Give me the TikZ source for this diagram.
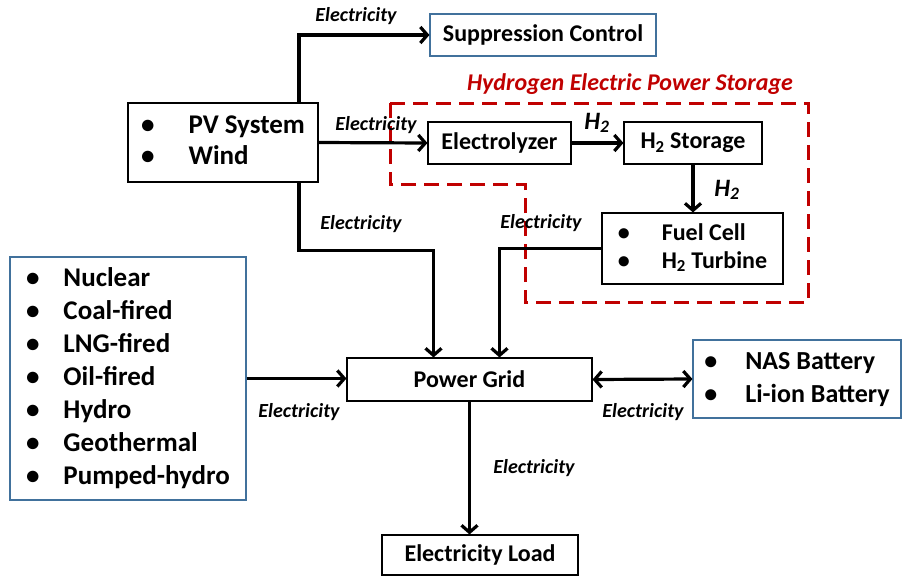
\documentclass[tikz,border=0pt]{standalone}
\usepackage{fontspec}
\setmainfont{Carlito}
\usetikzlibrary{arrows.meta}
\definecolor{boxblue}{HTML}{41719C}
\definecolor{storred}{HTML}{C00000}
\tikzset{
    unit/.style={draw=black, line width=1.1pt, fill=white, inner sep=0pt,
        font=\fontsize{24}{28}\selectfont\bfseries},
    bluebox/.style={unit, draw=boxblue},
    flow/.style={line width=3.2pt, -{Straight Barb[length=7pt,width=16pt]}},
    flowlabel/.style={font=\fontsize{20}{24}\selectfont\bfseries\itshape}
}

\begin{document}
\begin{tikzpicture}[x=1pt, y=-1pt]
    \useasboundingbox (0,0) rectangle (902,576);

    % ---------------- hydrogen storage area ----------------
    \draw[storred, line width=3pt, dash pattern=on 15pt off 8pt]
        (390,103) -- (808,103) -- (808,302) -- (525,302)
        -- (525,184) -- (390,184) -- cycle;
    \node[font=\fontsize{24}{28}\selectfont\bfseries\itshape, text=storred]
        (storlabel) at (630,84) {Hydrogen Electric Power Storage};

    % ---------------- units ----------------
    \node[bluebox, minimum width=226, minimum height=42] (supp) at (543,35) {Suppression Control};
    \node[unit, minimum width=190, minimum height=79,
          font=\fontsize{27}{31}\selectfont\bfseries] (pv) at (223,142.5)
        {\begin{tabular}{@{}l@{\hspace{34pt}}l@{}}\textbullet & PV System\\ \textbullet & Wind\end{tabular}};
    \node[unit, minimum width=143, minimum height=42] (elec) at (499.5,143) {Electrolyzer};
    \node[unit, minimum width=138, minimum height=42] (h2s) at (693,143) {H\textsubscript{2} Storage};
    \node[unit, minimum width=181, minimum height=71,
          font=\fontsize{24}{28}\selectfont\bfseries] (fc) at (692.5,248.5)
        {\begin{tabular}{@{}l@{\hspace{32pt}}l@{}}\textbullet & Fuel Cell\\ \textbullet & H\textsubscript{2} Turbine\end{tabular}};
    \node[unit, minimum width=245, minimum height=43] (grid) at (469.5,379.5) {Power Grid};
    \node[bluebox, minimum width=236, minimum height=243,
          font=\fontsize{27}{33}\selectfont\bfseries] (gen) at (128,378.5)
        {\begin{tabular}{@{}l@{\hspace{24pt}}l@{}}
            \textbullet & Nuclear\\ \textbullet & Coal-fired\\ \textbullet & LNG-fired\\
            \textbullet & Oil-fired\\ \textbullet & Hydro\\ \textbullet & Geothermal\\
            \textbullet & Pumped-hydro
        \end{tabular}};
    \node[bluebox, minimum width=208, minimum height=78,
          font=\fontsize{26}{33}\selectfont\bfseries] (bat) at (797,379)
        {\begin{tabular}{@{}l@{\hspace{28pt}}l@{}}\textbullet & NAS Battery\\ \textbullet & Li-ion Battery\end{tabular}};
    \node[unit, minimum width=196, minimum height=40] (load) at (480,555) {Electricity Load};

    % ---------------- flows ----------------
    \draw[flow] ([xshift=76]pv.north) |- (supp.west);
    \draw[flow] (pv.east) -- (elec.west);
    \draw[flow] (elec.east) -- (h2s.west);
    \draw[flow] (h2s.south) -- (h2s.south |- fc.north);
    \draw[flow] ([xshift=76]pv.south) -- ++(0,68) -| ([xshift=-36]grid.north);
    \draw[flow] (fc.west) -| ([xshift=30]grid.north);
    \draw[flow] (gen.east) -- (gen.east -| grid.west);
    \draw[flow, {Straight Barb[length=7pt,width=16pt]}-{Straight Barb[length=7pt,width=16pt]}]
        (grid.east) -- (bat.west);
    \draw[flow] (grid.south) -- (grid.south |- load.north);

    % ---------------- labels ----------------
    \node[flowlabel] (lsupp) at (356,16) {Electricity};
    \node[flowlabel] (lelec) at (376,125) {Electricity};
    \node[flowlabel, font=\fontsize{25}{28}\selectfont\bfseries\itshape] (lhone) at (597,123) {H\textsubscript{2}};
    \node[flowlabel, font=\fontsize{25}{28}\selectfont\bfseries\itshape] (lhtwo) at (727,190) {H\textsubscript{2}};
    \node[flowlabel] (lpv) at (361,224) {Electricity};
    \node[flowlabel] (lfc) at (541,223) {Electricity};
    \node[flowlabel] (lgen) at (299,412) {Electricity};
    \node[flowlabel] (lbat) at (643,412) {Electricity};
    \node[flowlabel] (lload) at (534,468) {Electricity};
\end{tikzpicture}
\end{document}
